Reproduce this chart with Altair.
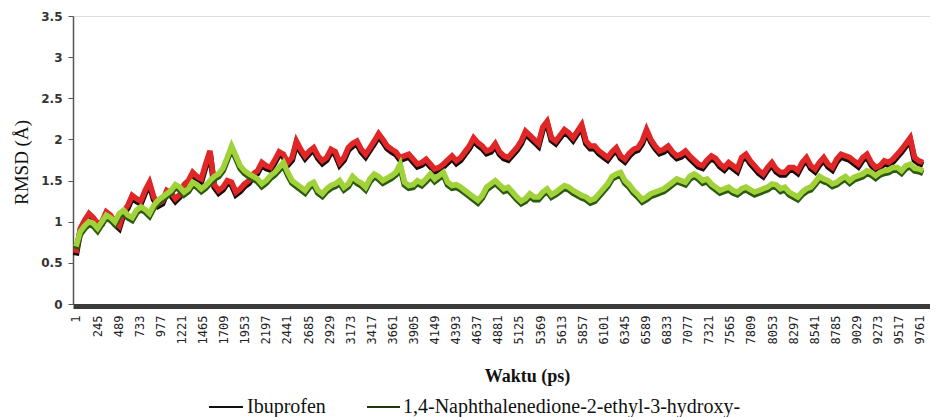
import altair as alt
import pandas as pd

# time axis (ps): main samples every 100 ps, plus in-between samples at +50 ps
time_main = [1 + 100 * k for k in range(99)]
time_mid = [51 + 100 * k for k in range(98)]

ibuprofen_main = [
    0.62, 1.02, 1.05, 1.00, 1.08, 0.95, 1.20, 1.28, 1.38, 1.30,
    1.25, 1.35, 1.33, 1.50, 1.55, 1.70, 1.45, 1.42, 1.48, 1.40,
    1.50, 1.62, 1.68, 1.75, 1.82, 1.78, 1.88, 1.86, 1.80, 1.78,
    1.85, 1.78, 1.95, 1.88, 1.90, 2.07, 1.92, 1.85, 1.80, 1.76,
    1.72, 1.70, 1.66, 1.75, 1.74, 1.85, 2.02, 1.92, 1.88, 1.85,
    1.78, 1.90, 2.10, 2.00, 2.15, 2.02, 2.05, 2.08, 2.10, 1.98,
    1.92, 1.82, 1.85, 1.80, 1.83, 1.90, 2.12, 1.92, 1.88, 1.85,
    1.82, 1.80, 1.70, 1.75, 1.77, 1.66, 1.68, 1.78, 1.74, 1.62,
    1.66, 1.64, 1.60, 1.66, 1.72, 1.68, 1.72, 1.70, 1.76, 1.80,
    1.74, 1.78, 1.72, 1.68, 1.72, 1.82, 1.95, 1.78, 1.72,
]
ibuprofen_mid = [
    0.92, 1.10, 0.98, 1.12, 1.00, 1.12, 1.32, 1.25, 1.48, 1.22,
    1.38, 1.28, 1.45, 1.60, 1.52, 1.86, 1.38, 1.50, 1.36, 1.46,
    1.58, 1.72, 1.66, 1.85, 1.72, 1.98, 1.80, 1.90, 1.74, 1.88,
    1.72, 1.90, 1.98, 1.82, 1.98, 2.00, 1.88, 1.78, 1.82, 1.70,
    1.76, 1.64, 1.70, 1.80, 1.78, 1.92, 1.96, 1.86, 1.95, 1.80,
    1.84, 1.98, 2.05, 1.95, 2.22, 1.98, 2.12, 2.02, 2.18, 1.92,
    1.86, 1.78, 1.90, 1.76, 1.88, 1.98, 2.00, 1.86, 1.92, 1.80,
    1.86, 1.75, 1.68, 1.80, 1.70, 1.72, 1.64, 1.82, 1.68, 1.58,
    1.72, 1.60, 1.66, 1.62, 1.78, 1.64, 1.78, 1.66, 1.82, 1.78,
    1.70, 1.82, 1.66, 1.74, 1.76, 1.88, 2.02, 1.74,
]

naphtho_main = [
    0.70, 0.95, 0.98, 1.00, 1.05, 1.10, 1.08, 1.14, 1.15, 1.20,
    1.30, 1.38, 1.42, 1.40, 1.45, 1.44, 1.55, 1.65, 1.92, 1.68,
    1.58, 1.52, 1.50, 1.60, 1.72, 1.50, 1.42, 1.45, 1.38, 1.40,
    1.46, 1.42, 1.55, 1.47, 1.52, 1.55, 1.53, 1.60, 1.48, 1.45,
    1.47, 1.58, 1.56, 1.48, 1.45, 1.38, 1.30, 1.32, 1.46, 1.45,
    1.42, 1.30, 1.28, 1.30, 1.36, 1.33, 1.40, 1.42, 1.35, 1.30,
    1.28, 1.40, 1.55, 1.60, 1.45, 1.33, 1.30, 1.36, 1.40, 1.48,
    1.50, 1.55, 1.55, 1.52, 1.42, 1.40, 1.38, 1.40, 1.39, 1.38,
    1.42, 1.45, 1.42, 1.33, 1.36, 1.42, 1.55, 1.50, 1.48, 1.55,
    1.54, 1.58, 1.60, 1.60, 1.63, 1.66, 1.68, 1.65, 1.62,
]
naphtho_mid = [
    0.88, 1.00, 0.92, 1.08, 1.00, 1.14, 1.05, 1.18, 1.10, 1.26,
    1.34, 1.45, 1.36, 1.48, 1.40, 1.50, 1.58, 1.78, 1.80, 1.62,
    1.55, 1.46, 1.56, 1.66, 1.60, 1.46, 1.38, 1.48, 1.34, 1.44,
    1.50, 1.46, 1.50, 1.42, 1.58, 1.50, 1.56, 1.70, 1.44, 1.50,
    1.52, 1.52, 1.60, 1.44, 1.42, 1.34, 1.26, 1.42, 1.50, 1.40,
    1.36, 1.25, 1.34, 1.30, 1.40, 1.36, 1.44, 1.38, 1.32, 1.26,
    1.34, 1.46, 1.58, 1.50, 1.38, 1.27, 1.34, 1.38, 1.44, 1.52,
    1.48, 1.58, 1.50, 1.46, 1.38, 1.42, 1.36, 1.42, 1.36, 1.40,
    1.46, 1.40, 1.36, 1.30, 1.40, 1.48, 1.52, 1.46, 1.52, 1.50,
    1.56, 1.62, 1.56, 1.62, 1.66, 1.62, 1.70, 1.64,
]

x_tick_values = [1 + 244 * i for i in range(41)]
y_tick_values = [0, 0.5, 1, 1.5, 2, 2.5, 3, 3.5]

legend_labels = ["Ibuprofen", "1,4-Naphthalenedione-2-ethyl-3-hydroxy-"]

SERIF = "'Liberation Serif', 'Times New Roman', 'DejaVu Serif', serif"


def build(t_main, v_main, t_mid, v_mid):
    df = pd.DataFrame({"ps": t_main + t_mid, "rmsd": v_main + v_mid})
    return df.sort_values("ps").reset_index(drop=True)


df_ibu = build(time_main, ibuprofen_main, time_mid, ibuprofen_mid)
df_nap = build(time_main, naphtho_main, time_mid, naphtho_mid)

x_enc = alt.X(
    "ps:Q",
    scale=alt.Scale(domain=[-33.5, 9880], nice=False, zero=False),
    axis=alt.Axis(
        values=x_tick_values,
        format="d",
        labelAngle=270,
        labelFont="DejaVu Sans Mono",
        labelFontSize=12,
        labelColor="#222222",
        labelPadding=9,
        labelOverlap=False,
        labelFlush=False,
        ticks=False,
        grid=False,
        domainColor="#3a3a3a",
        domainWidth=5,
        offset=2,
        title="Waktu (ps)",
        titleFont=SERIF,
        titleFontSize=18,
        titleFontWeight="bold",
        titleColor="#111111",
        titleX=454,
        titleY=70,
        titleAnchor="start",
        titleAlign="center",
        titleBaseline="middle",
    ),
)

y_enc = alt.Y(
    "rmsd:Q",
    scale=alt.Scale(domain=[0, 3.5], nice=False),
    axis=alt.Axis(
        values=y_tick_values,
        format="~g",
        labelFont="DejaVu Sans",
        labelFontSize=12,
        labelFontWeight="bold",
        labelColor="#333333",
        labelPadding=6,
        tickSize=5,
        tickColor="#555555",
        domainColor="#555555",
        domainWidth=1.5,
        grid=False,
        title="RMSD (Å)",
        titleFont=SERIF,
        titleFontSize=19,
        titleFontWeight="normal",
        titleColor="#111111",
        titleX=-52,
        titleY=146,
        titleAngle=270,
        titleAlign="center",
        titleBaseline="middle",
    ),
)


def series(df, main_color, shadow_color):
    shadow = alt.Chart(df).mark_line(
        color=shadow_color, strokeWidth=6, yOffset=2.5, strokeJoin="miter"
    ).encode(x=x_enc, y=y_enc)
    main = alt.Chart(df).mark_line(
        color=main_color, strokeWidth=5.5, strokeJoin="miter"
    ).encode(x=x_enc, y=y_enc)
    return shadow + main


ibu_layer = series(df_ibu, "#e02626", "#1a0a0a")
nap_layer = series(df_nap, "#a2d23a", "#2c5a10")

leg1 = pd.DataFrame({"label": [legend_labels[0]]})
leg2 = pd.DataFrame({"label": [legend_labels[1]]})

leg_rule1 = alt.Chart(leg1).mark_rule(color="#111111", strokeWidth=2).encode(
    x=alt.value(136), x2=alt.value(170), y=alt.value(391)
)
leg_text1 = alt.Chart(leg1).mark_text(
    align="left", baseline="middle", font=SERIF, fontSize=20, color="#111111"
).encode(x=alt.value(174), y=alt.value(391), text="label:N")
leg_rule2 = alt.Chart(leg2).mark_rule(color="#1c3a0c", strokeWidth=2).encode(
    x=alt.value(294), x2=alt.value(327), y=alt.value(391)
)
leg_text2 = alt.Chart(leg2).mark_text(
    align="left", baseline="middle", font=SERIF, fontSize=20, color="#111111"
).encode(x=alt.value(330), y=alt.value(391), text="label:N")

chart = alt.layer(
    ibu_layer, nap_layer, leg_rule1, leg_text1, leg_rule2, leg_text2
).properties(
    width=857,
    height=288,
    autosize=alt.AutoSizeParams(type="none"),
    padding={"left": 65, "top": 8, "right": 0, "bottom": 113},
).configure_view(stroke=None).configure(background="white")

chart.save("out.html", embed_options={"renderer": "svg", "actions": False})
